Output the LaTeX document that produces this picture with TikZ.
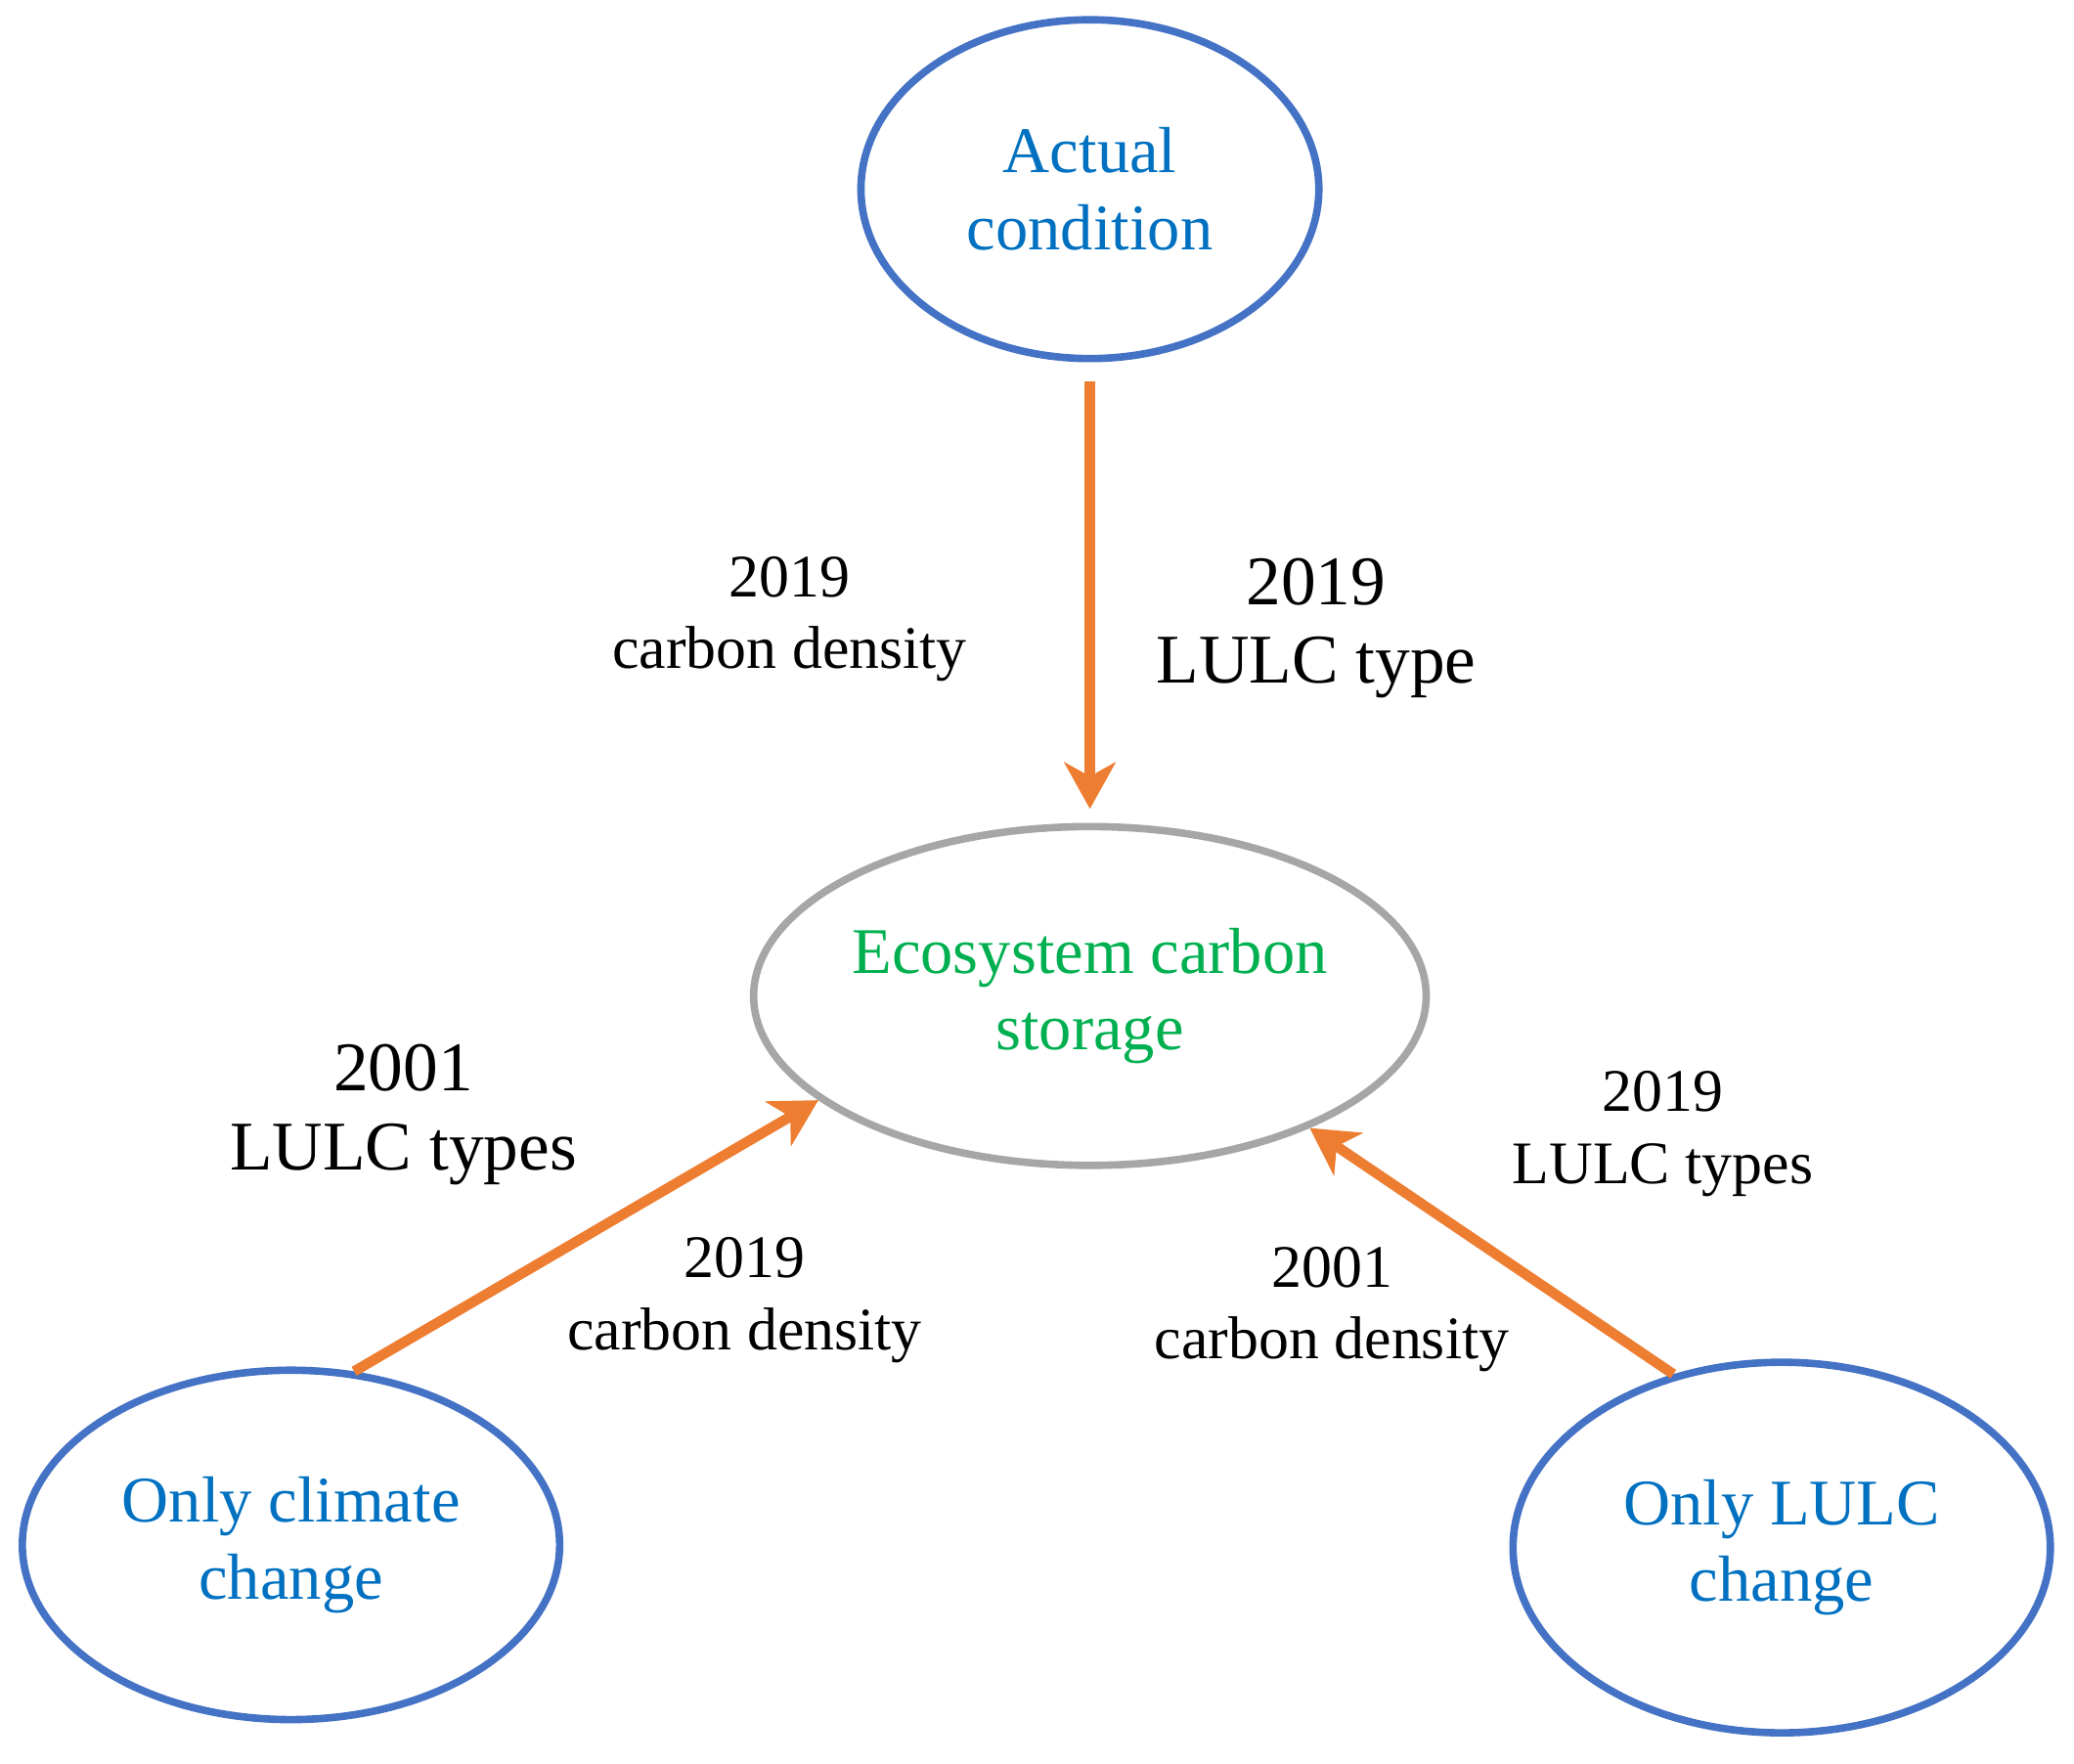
\documentclass[tikz,border=0pt]{standalone}
\usepackage{fontspec}
\setmainfont{Liberation Serif}
\usetikzlibrary{arrows.meta}
\usetikzlibrary{shapes.geometric}
\definecolor{ringblue}{RGB}{68,114,196}
\definecolor{textblue}{RGB}{0,112,192}
\definecolor{arrorange}{RGB}{237,125,49}
\definecolor{ecogreen}{RGB}{0,176,80}
\tikzset{
  state/.style={ellipse,draw=ringblue,line width=1.6pt,inner sep=0pt,align=center,text=textblue,font=\fontsize{14}{16.5}\selectfont},
  flow/.style={draw=arrorange,line width=2.2pt,-{Stealth[length=10pt,width=11pt,inset=3pt]}},
  lab/.style={align=center,font=\fontsize{13}{15.5}\selectfont},
  biglab/.style={align=center,font=\fontsize{15}{17}\selectfont}
}
\begin{document}
\begin{tikzpicture}[x=0.01cm,y=-0.01cm]
\useasboundingbox (0,0) rectangle (1568,1333);

\node[state,minimum width=3.46cm,minimum height=2.56cm] (act) at (824,143) {Actual\\condition};
\node[state,draw=gray!70,text=ecogreen,minimum width=4.52cm,minimum height=2.56cm] (eco) at (824,753) {Ecosystem carbon\\storage};
\node[state,minimum width=4.06cm,minimum height=2.64cm] (clim) at (220,1168) {Only climate\\change};
\node[state,minimum width=4.06cm,minimum height=2.8cm] (lulc) at (1347,1170) {Only LULC\\change};

\draw[flow,shorten <=4pt,shorten >=3pt] (act.south) -- (eco.north);
\draw[flow] (clim.70) -- (eco.201);
\draw[flow] (lulc.122) -- (eco.329);

\node[lab] (l1) at (597,468) {2019\\carbon density};
\node[biglab] (l2) at (995,475) {2019\\LULC type};
\node[biglab] (l3) at (305,843) {2001\\LULC types};
\node[lab] (l4) at (563,983) {2019\\carbon density};
\node[lab] (l5) at (1257,857) {2019\\LULC types};
\node[lab] (l6) at (1007,990) {2001\\carbon density};

\end{tikzpicture}
\end{document}
